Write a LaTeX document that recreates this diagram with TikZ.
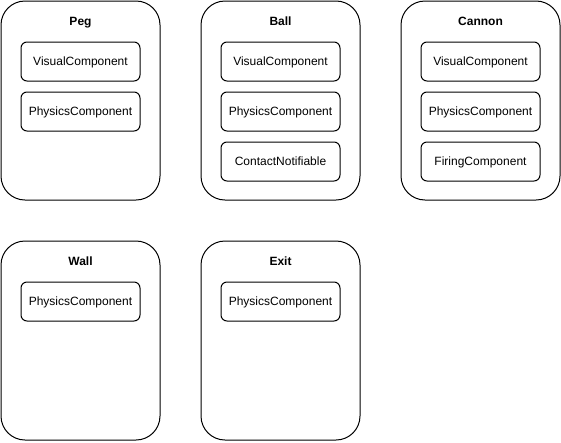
\documentclass[tikz,border=0pt]{standalone}
\usepackage{fontspec}
\setmainfont{Liberation Sans}
\begin{document}
\begin{tikzpicture}[x=1pt, y=-1pt,
    entity/.style={draw, line width=1pt, rounded corners=24pt, minimum width=159pt, minimum height=199pt},
    title/.style={font=\fontsize{12}{14}\selectfont\bfseries, text height=8.6pt, text depth=0pt},
    component/.style={draw, line width=1pt, rounded corners=6pt, minimum width=119pt, minimum height=39pt,
        font=\fontsize{12}{14}\selectfont, text height=8.6pt, text depth=0pt}]
    \useasboundingbox (0,0) rectangle (561,442);

    % Peg
    \node[entity] (peg) at (80.5,100.5) {};
    \node[title] (pegtitle) at (80.5,21.5) {Peg};
    \node[component] (pegvisual) at (80.5,61.5) {VisualComponent};
    \node[component] (pegphysics) at (80.5,111.5) {PhysicsComponent};

    % Ball
    \node[entity] (ball) at (280.5,100.5) {};
    \node[title] (balltitle) at (280.5,21.5) {Ball};
    \node[component] (ballvisual) at (280.5,61.5) {VisualComponent};
    \node[component] (ballphysics) at (280.5,111.5) {PhysicsComponent};
    \node[component] (ballcontact) at (280.5,161.5) {ContactNotifiable};

    % Cannon
    \node[entity] (cannon) at (480.5,100.5) {};
    \node[title] (cannontitle) at (480.5,21.5) {Cannon};
    \node[component] (cannonvisual) at (480.5,61.5) {VisualComponent};
    \node[component] (cannonphysics) at (480.5,111.5) {PhysicsComponent};
    \node[component] (cannonfiring) at (480.5,161.5) {FiringComponent};

    % Wall
    \node[entity] (wall) at (80.5,340.5) {};
    \node[title] (walltitle) at (80.5,261.5) {Wall};
    \node[component] (wallphysics) at (80.5,301.5) {PhysicsComponent};

    % Exit
    \node[entity] (exit) at (280.5,340.5) {};
    \node[title] (exittitle) at (280.5,261.5) {Exit};
    \node[component] (exitphysics) at (280.5,301.5) {PhysicsComponent};
\end{tikzpicture}
\end{document}
